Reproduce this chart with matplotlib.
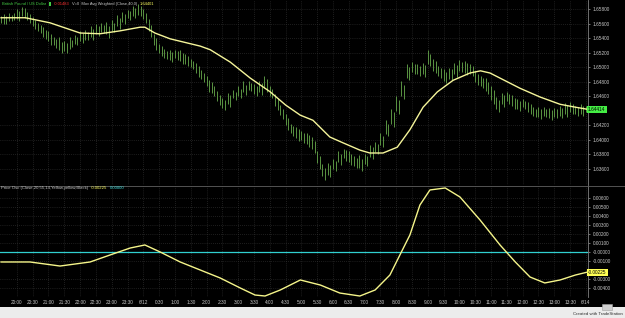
import matplotlib
matplotlib.use("Agg")
import matplotlib.pyplot as plt
from matplotlib.ticker import FuncFormatter, FixedLocator

plt.rcParams['font.family'] = ['Liberation Sans', 'DejaVu Sans']

# ---------------- data ----------------
time_labels = ["20:00", "20:30", "21:00", "21:30", "22:00", "22:30", "23:00", "23:30", "6/12",
               "0:30", "1:00", "1:30", "2:00", "2:30", "3:00", "3:30", "4:00", "4:30", "5:00",
               "5:30", "6:00", "6:30", "7:00", "7:30", "8:00", "8:30", "9:00", "9:30", "10:00",
               "10:30", "11:00", "11:30", "12:00", "12:30", "13:00", "13:30", "6/14"]

bar_high = [1.6571, 1.6573, 1.6570, 1.6574, 1.6572, 1.6575, 1.6580, 1.6577, 1.6583, 1.6581,
            1.6576, 1.6573, 1.6569, 1.6565, 1.6561, 1.6558, 1.6555, 1.6551, 1.6550, 1.6546,
            1.6541, 1.6539, 1.6541, 1.6535, 1.6536, 1.6533, 1.6541, 1.6538, 1.6544, 1.6542,
            1.6550, 1.6547, 1.6551, 1.6549, 1.6557, 1.6553, 1.6559, 1.6556, 1.6561, 1.6558,
            1.6562, 1.6556, 1.6565, 1.6561, 1.6572, 1.6568, 1.6576, 1.6573, 1.6579, 1.6577,
            1.6584, 1.6581, 1.6587, 1.6584, 1.6580, 1.6575, 1.6566, 1.6558, 1.6546, 1.6540,
            1.6532, 1.6529, 1.6525, 1.6522, 1.6524, 1.6521, 1.6524, 1.6522, 1.6524, 1.6519,
            1.6518, 1.6515, 1.6511, 1.6509, 1.6506, 1.6501, 1.6496, 1.6492, 1.6488, 1.6482,
            1.6479, 1.6474, 1.6467, 1.6462, 1.6458, 1.6455, 1.6465, 1.6462, 1.6469, 1.6466,
            1.6474, 1.6470, 1.6481, 1.6476, 1.6481, 1.6478, 1.6477, 1.6474, 1.6481, 1.6478,
            1.6488, 1.6484, 1.6474, 1.6470, 1.6463, 1.6457, 1.6448, 1.6443, 1.6436, 1.6430,
            1.6422, 1.6419, 1.6418, 1.6415, 1.6412, 1.6410, 1.6410, 1.6407, 1.6404, 1.6398,
            1.6385, 1.6378, 1.6367, 1.6362, 1.6368, 1.6365, 1.6374, 1.6371, 1.6385, 1.6380,
            1.6388, 1.6386, 1.6385, 1.6381, 1.6378, 1.6375, 1.6379, 1.6374, 1.6381, 1.6378,
            1.6393, 1.6390, 1.6397, 1.6395, 1.6410, 1.6405, 1.6427, 1.6422, 1.6443, 1.6438,
            1.6460, 1.6455, 1.6481, 1.6475, 1.6504, 1.6500, 1.6507, 1.6505, 1.6504, 1.6502,
            1.6506, 1.6503, 1.6524, 1.6518, 1.6511, 1.6508, 1.6502, 1.6499, 1.6498, 1.6494,
            1.6499, 1.6497, 1.6506, 1.6503, 1.6510, 1.6507, 1.6509, 1.6506, 1.6504, 1.6501,
            1.6495, 1.6491, 1.6488, 1.6485, 1.6485, 1.6480, 1.6474, 1.6468, 1.6459, 1.6455,
            1.6465, 1.6462, 1.6466, 1.6463, 1.6462, 1.6458, 1.6456, 1.6453, 1.6456, 1.6454,
            1.6452, 1.6449, 1.6445, 1.6443, 1.6445, 1.6442, 1.6445, 1.6443, 1.6444, 1.6441,
            1.6444, 1.6442, 1.6447, 1.6444, 1.6451, 1.6448, 1.6452, 1.6449, 1.6447, 1.6445,
            1.6449, 1.6446, 1.6447]
bar_low = [1.6561, 1.6560, 1.6559, 1.6563, 1.6563, 1.6565, 1.6566, 1.6563, 1.6570, 1.6568,
           1.6565, 1.6561, 1.6557, 1.6552, 1.6550, 1.6547, 1.6542, 1.6539, 1.6536, 1.6531,
           1.6530, 1.6527, 1.6524, 1.6519, 1.6522, 1.6519, 1.6525, 1.6528, 1.6532, 1.6531,
           1.6536, 1.6533, 1.6538, 1.6537, 1.6542, 1.6538, 1.6545, 1.6543, 1.6549, 1.6547,
           1.6545, 1.6540, 1.6550, 1.6548, 1.6556, 1.6553, 1.6562, 1.6559, 1.6567, 1.6565,
           1.6570, 1.6568, 1.6572, 1.6570, 1.6566, 1.6561, 1.6550, 1.6541, 1.6530, 1.6524,
           1.6520, 1.6515, 1.6513, 1.6511, 1.6510, 1.6507, 1.6512, 1.6510, 1.6509, 1.6504,
           1.6505, 1.6502, 1.6500, 1.6498, 1.6492, 1.6487, 1.6484, 1.6480, 1.6474, 1.6466,
           1.6465, 1.6460, 1.6454, 1.6448, 1.6444, 1.6441, 1.6450, 1.6445, 1.6457, 1.6455,
           1.6460, 1.6458, 1.6466, 1.6462, 1.6469, 1.6467, 1.6463, 1.6460, 1.6466, 1.6462,
           1.6472, 1.6466, 1.6460, 1.6458, 1.6447, 1.6441, 1.6434, 1.6429, 1.6420, 1.6414,
           1.6409, 1.6405, 1.6403, 1.6399, 1.6400, 1.6396, 1.6394, 1.6390, 1.6388, 1.6382,
           1.6368, 1.6360, 1.6350, 1.6345, 1.6352, 1.6349, 1.6360, 1.6357, 1.6370, 1.6366,
           1.6375, 1.6371, 1.6370, 1.6366, 1.6364, 1.6361, 1.6362, 1.6357, 1.6367, 1.6364,
           1.6377, 1.6374, 1.6384, 1.6381, 1.6393, 1.6390, 1.6408, 1.6405, 1.6422, 1.6418,
           1.6440, 1.6436, 1.6460, 1.6456, 1.6485, 1.6482, 1.6493, 1.6491, 1.6490, 1.6488,
           1.6490, 1.6487, 1.6505, 1.6502, 1.6495, 1.6492, 1.6488, 1.6485, 1.6481, 1.6478,
           1.6484, 1.6482, 1.6490, 1.6487, 1.6495, 1.6493, 1.6492, 1.6489, 1.6490, 1.6488,
           1.6479, 1.6476, 1.6474, 1.6471, 1.6467, 1.6463, 1.6455, 1.6450, 1.6443, 1.6439,
           1.6449, 1.6445, 1.6453, 1.6450, 1.6446, 1.6443, 1.6443, 1.6440, 1.6445, 1.6443,
           1.6439, 1.6436, 1.6433, 1.6431, 1.6432, 1.6429, 1.6433, 1.6431, 1.6430, 1.6427,
           1.6432, 1.6430, 1.6433, 1.6430, 1.6435, 1.6431, 1.6438, 1.6436, 1.6435, 1.6433,
           1.6436, 1.6433, 1.6438]

ma_pos = [0, 9.2, 18.6, 30, 37.6, 45.2, 52.8, 54.6, 58.4, 64.2, 75.6, 79.4, 87, 94.6, 102.2,
          108, 113.6, 118.4, 124.8, 129.8, 136.2, 140, 145, 150.4, 155.2, 160.2, 165.6, 171.6,
          178, 182, 185.6, 189.4, 197, 204.6, 212.2, 218, 222.8]
ma_val = [1.6568, 1.6568, 1.6561, 1.6547, 1.6546, 1.6550, 1.6555, 1.6555, 1.6547, 1.6539,
          1.6529, 1.6524, 1.6507, 1.6485, 1.6466, 1.6448, 1.6434, 1.6427, 1.6404, 1.6396,
          1.6386, 1.6382, 1.6382, 1.6390, 1.6414, 1.6445, 1.6466, 1.6482, 1.6492, 1.6495,
          1.6492, 1.6485, 1.6471, 1.6459, 1.6449, 1.6445, 1.6442]

osc_pos = [0, 11, 22.4, 33.8, 41.4, 49, 54.6, 60.4, 68, 75.6, 83.2, 90.8, 96.4, 100.2, 106,
           113.6, 121.2, 128.6, 136.2, 142, 147.6, 151.4, 155.2, 159, 162.8, 168.6, 174.2,
           181.8, 189.4, 195.2, 200.8, 206.4, 212.2, 218, 222.8]
osc_val = [-0.00111, -0.00111, -0.00156, -0.00111, -0.00033, 0.00044, 0.00078, 0.0, -0.00111,
           -0.00200, -0.00289, -0.00400, -0.00478, -0.00489, -0.00422, -0.00311, -0.00367,
           -0.00456, -0.00489, -0.00422, -0.00256, -0.00033, 0.00189, 0.00522, 0.00689,
           0.00711, 0.00611, 0.00356, 0.00078, -0.00111, -0.00278, -0.00344, -0.00311,
           -0.00256, -0.00222]

price_ticks = [1.658, 1.656, 1.654, 1.652, 1.650, 1.648, 1.646, 1.642, 1.640, 1.638, 1.636]
osc_ticks = [0.006, 0.005, 0.004, 0.003, 0.002, 0.001, 0.0, -0.001, -0.003, -0.004]
last_price = 1.64414
last_osc = -0.00225

# ---------------- layout ----------------
W, H = 625, 318
fig = plt.figure(figsize=(W / 100, H / 100), dpi=100, facecolor='black')

def rect(x0, y0, x1, y1):
    return [x0 / W, 1 - y1 / H, (x1 - x0) / W, (y1 - y0) / H]

ax1 = fig.add_axes(rect(0, 0, 588, 185))
ax2 = fig.add_axes(rect(0, 186, 588, 297))

grid_c = '#3a3a3a'
txt_c = '#c8c8c8'
fs = 3.4

for ax in (ax1, ax2):
    ax.set_facecolor('black')
    for s in ('top', 'left', 'bottom'):
        ax.spines[s].set_visible(False)
    ax.spines['right'].set_color('#808080')
    ax.spines['right'].set_linewidth(0.6)
    ax.yaxis.tick_right()
    ax.tick_params(axis='y', colors=txt_c, labelsize=fs, length=1.5, width=0.4, pad=2)
    ax.tick_params(axis='x', colors=txt_c, labelsize=fs, length=0, pad=2)
    ax.set_xlim(-0.4, 222.8)
    tick_idx = [6 + 6 * k for k in range(len(time_labels))]
    ax.xaxis.set_major_locator(FixedLocator(tick_idx))
    ax.grid(True, color=grid_c, linestyle=(0, (1, 2)), linewidth=0.5)
    ax.set_axisbelow(True)

ax1.set_xticklabels([])
ax2.set_xticklabels(time_labels)
for lbl in ax2.get_xticklabels():
    lbl.set_color(txt_c)

# price bars
xs = list(range(len(bar_high)))
ax1.vlines(xs, bar_low, bar_high, color='#5a9443', linewidth=0.7)
ax1.plot(ma_pos, ma_val, color='#f5f59a', linewidth=1.0)
ax1.set_ylim(1.63380, 1.65924)
ax1.yaxis.set_major_locator(FixedLocator(price_ticks))
ax1.yaxis.set_major_formatter(FuncFormatter(lambda v, p: f"{v:.5f}"))

# oscillator
ax2.axhline(0.0, color='#30d0d0', linewidth=0.9)
ax2.plot(osc_pos, osc_val, color='#f5f58a', linewidth=1.0)
ax2.set_ylim(-0.0050, 0.00733)
ax2.yaxis.set_major_locator(FixedLocator(osc_ticks))
ax2.yaxis.set_major_formatter(FuncFormatter(lambda v, p: "-0.00000" if abs(v) < 1e-9 else f"{v:.5f}"))

# highlighted last values on the axis
ax1.text(1.0, last_price, f"{last_price:.5f}", transform=ax1.get_yaxis_transform(),
         fontsize=fs, color='black', va='center', ha='left',
         bbox=dict(boxstyle='square,pad=0.25', fc='#44ee44', ec='none'))
ax2.text(1.0, last_osc, f"{last_osc:.5f}", transform=ax2.get_yaxis_transform(),
         fontsize=fs, color='black', va='center', ha='left',
         bbox=dict(boxstyle='square,pad=0.25', fc='#ffff55', ec='none'))

# separator between panels
fig.add_artist(plt.Line2D([0, 1], [1 - 185.5 / H] * 2, color='#606060', linewidth=0.6))

# headers, laid out one after another
renderer = fig.canvas.get_renderer()

def seq(x, y, parts, size, gap=2.5):
    for s, c in parts:
        if s is None:
            fig.add_artist(plt.Rectangle((x / W, 1 - (y + 2) / H), 2.5 / W, 4 / H,
                                         fc=c, ec='none'))
            x += 2.5 + gap
            continue
        t = fig.text(x / W, 1 - y / H, s, color=c, fontsize=size, va='center', ha='left')
        bb = t.get_window_extent(renderer=renderer)
        x = bb.x1 + gap

seq(2, 4, [("British Pound / US Dollar", '#44cc44'), (None, '#44cc44'),
           ("-0.01483", '#ff3030'), ("V=0  Mov Avg Weighted (Close,40,0)", txt_c),
           ("1.64401", '#ffff60')], 2.9)
seq(1, 188, [("Price Osc (Close,20,55,14,Yellow,yellow,Black)", txt_c),
             ("-0.00225", '#ffff60'), ("0.00000", '#40e0e0')], 3.1)

# bottom strip
fig.add_artist(plt.Rectangle((0, 0), 1, 11 / H, fc='#ececec', ec='none'))
fig.add_artist(plt.Rectangle((602 / W, 1 - 310 / H), 10 / W, 6 / H, fc='#d0d0d0', ec='#a0a0a0', lw=0.4))
fig.text(623 / W, 1 - 314 / H, "Created with TradeStation", color='#303030', fontsize=3.2,
         va='center', ha='right')

fig.savefig("out.png", dpi=100, facecolor='black')
